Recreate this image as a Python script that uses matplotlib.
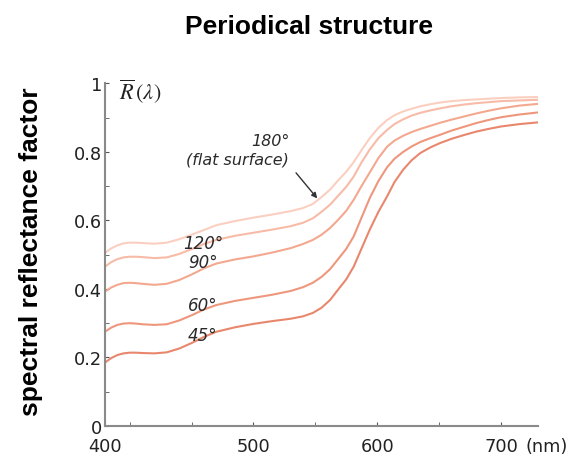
import numpy as np
import matplotlib.pyplot as plt

plt.rcParams['mathtext.fontset'] = 'stix'

# wavelength (nm) and reflectance
wl = [380, 385, 390, 395, 400, 405, 410, 420, 430, 440, 450, 460, 470, 485, 500,
      515, 530, 540, 548, 555, 562, 568, 575, 581, 587, 594, 601, 608, 614, 621,
      628, 635, 643, 651, 660, 670, 680, 690, 700, 715, 730]
r180 = [0.505, 0.518, 0.527, 0.533, 0.535, 0.535, 0.534, 0.532, 0.535, 0.545, 0.558,
        0.572, 0.586, 0.598, 0.608, 0.617, 0.627, 0.636, 0.648, 0.668, 0.69, 0.715,
        0.742, 0.77, 0.803, 0.84, 0.87, 0.893, 0.907, 0.918, 0.926, 0.933, 0.939,
        0.944, 0.948, 0.951, 0.953, 0.955, 0.957, 0.959, 0.96]
r120 = [0.465, 0.478, 0.487, 0.492, 0.494, 0.494, 0.493, 0.49, 0.492, 0.502, 0.516,
        0.531, 0.543, 0.555, 0.564, 0.573, 0.583, 0.593, 0.606, 0.625, 0.646, 0.67,
        0.698, 0.728, 0.767, 0.807, 0.84, 0.864, 0.881, 0.895, 0.906, 0.914, 0.921,
        0.927, 0.933, 0.938, 0.942, 0.945, 0.948, 0.95, 0.952]
r90 = [0.392, 0.404, 0.412, 0.417, 0.418, 0.417, 0.415, 0.412, 0.415, 0.426, 0.442,
       0.46, 0.474, 0.486, 0.495, 0.506, 0.519, 0.531, 0.543, 0.558, 0.578, 0.6,
       0.628, 0.66, 0.698, 0.74, 0.782, 0.815, 0.833, 0.847, 0.858, 0.867, 0.876,
       0.885, 0.894, 0.903, 0.912, 0.92, 0.927, 0.935, 0.94]
r60 = [0.275, 0.287, 0.295, 0.299, 0.30, 0.299, 0.297, 0.295, 0.297, 0.308, 0.323,
       0.34, 0.353, 0.365, 0.374, 0.383, 0.394, 0.405, 0.418, 0.435, 0.458, 0.485,
       0.517, 0.553, 0.605, 0.665, 0.715, 0.755, 0.78, 0.80, 0.816, 0.829, 0.84,
       0.85, 0.862, 0.873, 0.884, 0.893, 0.901, 0.909, 0.915]
r45 = [0.185, 0.198, 0.207, 0.212, 0.214, 0.214, 0.213, 0.212, 0.215, 0.226, 0.242,
       0.26, 0.275, 0.288, 0.298, 0.306, 0.313, 0.32, 0.33, 0.345, 0.368, 0.396,
       0.428, 0.465, 0.515, 0.573, 0.625, 0.67, 0.712, 0.748, 0.776, 0.797, 0.813,
       0.826, 0.838, 0.849, 0.859, 0.867, 0.874, 0.881, 0.886]

series = [r180, r120, r90, r60, r45]
colors = ['#fbcfc0', '#f7bba7', '#f3a88f', '#ee977c', '#e9876d']

fig = plt.figure(figsize=(5.67, 4.60), dpi=100)
ax = fig.add_axes([0.185, 0.0717, 0.764, 0.745])

for r, c in zip(series, colors):
    ax.plot(wl, r, color=c, lw=1.5, solid_joinstyle='round')

ax.set_xlim(380, 730)
ax.set_ylim(0, 1)

for s in ['top', 'right']:
    ax.spines[s].set_visible(False)
for s in ['left', 'bottom']:
    ax.spines[s].set_color('#8a8a8a')
    ax.spines[s].set_linewidth(1.5)

ax.set_xticks([380, 500, 600, 700])
ax.set_xticklabels(['400', '500', '600', '700'])
ax.set_xticks([400, 450, 550, 650], minor=True)
ax.set_yticks([0, 0.2, 0.4, 0.6, 0.8, 1])
ax.set_yticklabels(['0', '0.2', '0.4', '0.6', '0.8', '1'])
ax.set_yticks([0.1, 0.3, 0.5, 0.7, 0.9], minor=True)
ax.tick_params(axis='both', which='both', direction='in', length=3,
               color='#555555', labelsize=12.8, labelcolor='#222222')
ax.tick_params(axis='x', which='major', pad=8)
ax.tick_params(axis='y', which='major', pad=2)

ax.annotate('(nm)', xy=(720, 0), xycoords=('data', 'axes fraction'),
            xytext=(0, -8), textcoords='offset points',
            ha='left', va='top', fontsize=12.8, color='#222222')

ax.text(391, 0.977, r'$\overline{R}\,(\lambda)$', fontsize=16, va='center',
        color='#222222')

lab = dict(fontsize=12, style='italic', color='#2a2a2a', va='center', ha='left')
ax.text(443, 0.535, '120°', **lab)
ax.text(447, 0.478, '90°', **lab)
ax.text(447, 0.352, '60°', **lab)
ax.text(447, 0.265, '45°', **lab)
ax.text(529, 0.832, '180°', fontsize=11.5, style='italic', color='#2a2a2a',
        va='center', ha='right')
ax.text(529, 0.78, '(flat surface)', fontsize=11.5, style='italic', color='#2a2a2a',
        va='center', ha='right')
ax.annotate('', xy=(553, 0.658), xytext=(533, 0.745),
            arrowprops=dict(arrowstyle='-|>', color='#333333', lw=1,
                            mutation_scale=8))

fig.text(0.545, 0.941, 'Periodical structure', fontsize=19, fontweight='bold',
         family='Liberation Sans', ha='center', va='center')
fig.text(0.055, 0.452, 'spectral reflectance factor', fontsize=19,
         fontweight='bold', family='Liberation Sans', rotation=90,
         ha='center', va='center')

fig.savefig('out.png', dpi=100)
